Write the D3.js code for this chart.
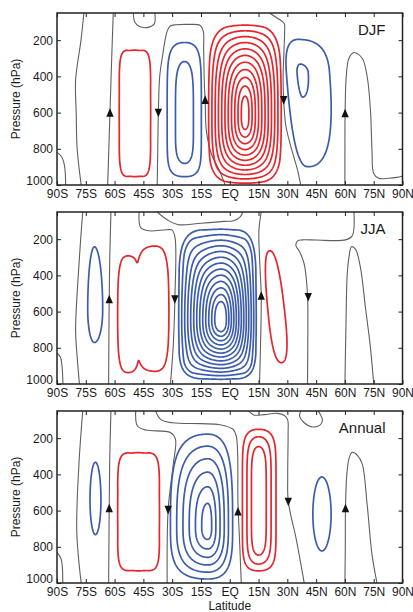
<!DOCTYPE html>
<html><head><meta charset="utf-8">
<script src="https://cdn.jsdelivr.net/npm/d3@7"></script>
<style>body{margin:0;background:#fff}text{font-family:"Liberation Sans",Arial,Helvetica,sans-serif;fill:#1a1a1a}</style>
</head><body><svg id="c" width="413" height="612"></svg>
<script>
// ---------------- data ----------------
const latTicks = [-90,-75,-60,-45,-30,-15,0,15,30,45,60,75,90];
const latTickLabels = ["90S","75S","60S","45S","30S","15S","EQ","15N","30N","45N","60N","75N","90N"];
const presTicks = [200,400,600,800,1000];
const panelNames = ["DJF","JJA","Annual"];

// circulation cells (streamfunction): sign, latitude [outer S edge, peak, outer N edge],
// pressure [outer top, peak, outer bottom] (hPa), number of contours, levels [outer, inner],
// g = stretch of the rings in latitude / pressure, a = squareness of the outer rings
const djfCells = [
  {s: 1, lat:[-57.6,-49.5,-41.2], p:[255,600,954], n:1,  c:[0.1],        a:6},
  {s:-1, lat:[-32.6,-23.5,-14.8], p:[213,650,954], n:2,  c:[0.1,0.5275], g:[1,2.35], a:2.8},
  {s: 1, lat:[-11,8,26.8],        p:[117,614,990], n:11, c:[0.1,0.906],  g:[1,1.45], a:3.5},
  {s:-1, lat:[29.5,37,52],        p:[196,380,899], n:2,  c:[0.1,0.766],  a:2.6, tilt:5}
];
const jjaCells = [
  {s:-1, lat:[-74,-70.5,-66.2],   p:[242,590,771], n:1,  c:[0.1],        a:2},
  {s: 1, parts:[{lat:[-58.4,-53,-46.5], p:[292,620,937]}, {lat:[-49.5,-39,-31.7], p:[238,600,930]}],
                                                   n:1,  c:[0.1],        a:3.2},
  {s:-1, lat:[-26.6,-4.5,13.8],   p:[145,645,974], n:13, c:[0.1,0.865],  g:[1,1.18], a:4.5},
  {s: 1, lat:[20.3,24.5,29],      p:[264,640,882], n:1,  c:[0.1],        a:2.5, tilt:6}
];
const annCells = [
  {s:-1, lat:[-72.8,-70,-67.1],   p:[333,540,733], n:1,  c:[0.1],        a:2},
  {s: 1, lat:[-58.4,-47.5,-36.6], p:[280,620,933], n:1,  c:[0.1],        a:6},
  {s:-1, lat:[-30.9,-11.5,1.5],   p:[178,687,978], n:6,  c:[0.1,0.856],  g:[1,1.32], a:2.7},
  {s: 1, lat:[6.6,15,24.1],       p:[151,560,933], n:3,  c:[0.1,0.604],  g:[1,3.1], a:2.6},
  {s:-1, lat:[43.3,48,52.8],      p:[414,620,823], n:1,  c:[0.1],        a:2}
];

// zero-streamfunction (gray) lines: [lat, hPa]
const djfZero = [
  [[-90,820],[-87.5,845],[-86,900],[-85.5,1000]],
  [[-76,50],[-77.5,200],[-80.3,420],[-80,600],[-79.5,800],[-77.4,1000]],
  [[-60.7,50],[-61.5,300],[-62.4,600],[-63,800],[-63.6,1000]],
  [[-50.2,50],[-49.5,100],[-47,125],[-42,128],[-39.3,110],[-39,50]],
  [[-37.8,1000],[-37.5,800],[-37.2,600],[-36.5,400],[-35.2,300],[-32.6,150],[-31,122],[-28,115],[-21.4,113],[-15.5,118],[-13.8,150],[-13.6,250],[-13.2,450],[-12.8,530],[-12.2,700],[-9.5,830],[-5.5,917],[-2.4,1000]],
  [[20.7,50],[25,80],[28.4,108],[28.6,145],[27.8,400],[28.1,531],[29.3,677],[32.8,824],[35.3,916],[37,1000]],
  [[60,1000],[60,800],[60.1,604],[60.7,400],[62.1,300],[64.7,268],[69,300],[71.6,402],[73.3,586],[74.1,807],[75,936],[77.6,963],[82.8,963],[87.1,958],[90,950]]
];
const jjaZero = [
  [[-90,830],[-88.3,850],[-86.9,1000]],
  [[-76.6,50],[-78.3,300],[-80.3,700],[-79.5,850],[-78.3,1000]],
  [[-61.9,50],[-62.5,300],[-62.8,532],[-63,800],[-63.1,1000]],
  [[-47.2,50],[-46.4,136],[-42.1,154],[-33,148],[-30,150],[-28.5,191],[-28.6,532],[-29.5,800],[-30.9,1000]],
  [[-37.8,50],[-31.7,99],[-26.6,120],[-15,112],[-3,102],[2,98],[5.2,80],[6.9,50]],
  [[16.4,50],[15.2,150],[15.5,300],[16.4,513],[16,800],[15.5,1000]],
  [[64.7,50],[63.8,182],[60.3,204],[45,205],[37.9,204],[35.3,209],[34.5,237],[36.2,265],[38.8,338],[40.5,504],[40.7,700],[40.5,1000]],
  [[60,1000],[60.5,700],[61.2,394],[62.1,301],[63.4,242],[65.5,255],[68.1,357],[70.7,578],[73.3,799],[75,1000]]
];
const annZero = [
  [[-90,830],[-87.8,870],[-87,1000]],
  [[-76.6,50],[-78.6,350],[-79.7,715],[-77.4,1000]],
  [[-61.9,50],[-62.5,300],[-62.8,587],[-63.1,1000]],
  [[-49,50],[-48.1,133],[-43.8,155],[-30.9,169],[-28.3,205],[-29.5,350],[-32.1,596],[-32.6,1000]],
  [[-38.6,50],[-36,96],[-30,115],[-15,120],[-5.2,126],[1.7,151],[3.4,187],[4.3,569],[5.2,787],[6,1000]],
  [[9.9,50],[12.5,72],[18,70],[24.7,63],[28.5,75],[30.2,100],[30.4,169],[30.2,400],[30.5,551],[34.5,751],[38.8,1000]],
  [[37,50],[36.4,80],[38.5,112],[43,138],[47,128],[48.3,100],[47,65],[46,50]],
  [[60,1000],[60.2,800],[60.3,587],[61,400],[62.2,310],[63.8,278],[66.5,295],[69,342],[71.6,569],[74.1,842],[76.7,1000]]
];

// circulation arrows: [lat, hPa, direction (+1 up, -1 down)]
const djfArrows = [[-62.4,601,1],[-37.2,601,-1],[-12.8,530,1],[28.1,531,-1],[60.1,604,1]];
const jjaArrows = [[-62.8,532,1],[-28.6,532,-1],[16.4,513,1],[40.9,519,-1]];
const annArrows = [[-62.8,587,1],[-32.1,596,-1],[4.3,605,1],[30.5,551,-1],[60.3,587,1]];

// ---------------- layout ----------------
const left = 57, W = 345.5, H = 172;
const tops = [13, 212, 411];
const RED = "#e5262c", BLUE = "#3d5dac", GRAY = "#5f5f5f";

const svg = d3.select("#c");
const x = d3.scaleLinear().domain([-90,90]).range([0,W]);
const y = d3.scaleLinear().domain([50,1000]).range([0,H]);
svg.append("defs").append("clipPath").attr("id","clip")
   .append("rect").attr("width",W).attr("height",H);

// grid for the streamfunction field
const dl = 0.4, nx = Math.round(180/dl)+1;
const ny = 238, dp = 950/(ny-1);

function partF(l, p, part, cell) {
  const [lL,lC,lR] = part.lat, [pT,pC,pB] = part.p;
  const [gL,gP] = cell.g || [1,1];
  const a = cell.a || 4, tilt = cell.tilt || 0;
  const D1 = 1 - cell.c[0];
  const kl = Math.pow(D1, 1/gL), kp = Math.pow(D1, 1/gP);
  const le = l - tilt*(p-pC)/(pB-pT);
  const s = le < lC ? (lC-le)*kl/(lC-lL) : (le-lC)*kl/(lR-lC);
  const t = p < pC ? (pC-p)*kp/(pC-pT) : (p-pC)*kp/(pB-pC);
  if (s >= 1.2 || t >= 1.2) return 0;
  const sa = Math.pow(s,gL), ta = Math.pow(t,gP);
  const D2 = Math.hypot(sa,ta);
  const Da = Math.pow(Math.pow(sa,a)+Math.pow(ta,a), 1/a);
  const w = Math.min(1,D2);
  const D = D2 + (Da-D2)*w*w;
  return Math.max(0, 1-D);
}
function cellField(cell) {
  const parts = cell.parts || [{lat:cell.lat, p:cell.p}];
  const vals = new Float64Array(nx*ny);
  for (let j=0;j<ny;j++){
    const p = 50 + j*dp;
    for (let i=0;i<nx;i++){
      const l = -90 + i*dl;
      let v;
      if (parts.length===1) v = partF(l,p,parts[0],cell);
      else { let acc=0; parts.forEach(pt=>{acc+=Math.pow(partF(l,p,pt,cell),6);}); v=Math.pow(acc,1/6);}
      vals[j*nx+i]=v;
    }
  }
  return vals;
}
function levels(cell){
  if (cell.n===1) return [cell.c[0]];
  return d3.range(cell.n).map(k => cell.c[0] + k*(cell.c[1]-cell.c[0])/(cell.n-1));
}
const gridPath = d3.geoPath(d3.geoTransform({
  point(gx, gy){ this.stream.point(x(-90 + (gx-0.5)*dl), y(50 + (gy-0.5)*dp)); }
}));
const zeroLine = d3.line().x(d=>x(d[0])).y(d=>y(d[1])).curve(d3.curveCatmullRom.alpha(0.5));

const panels = [
  {cells:djfCells, zero:djfZero, arrows:djfArrows},
  {cells:jjaCells, zero:jjaZero, arrows:jjaArrows},
  {cells:annCells, zero:annZero, arrows:annArrows}
];

panels.forEach((pn,i)=>{
  const g = svg.append("g").attr("transform",`translate(${left},${tops[i]})`);
  const plot = g.append("g").attr("clip-path","url(#clip)");

  plot.selectAll("path.zero").data(pn.zero).join("path").attr("class","zero")
      .attr("d", zeroLine).attr("fill","none").attr("stroke",GRAY).attr("stroke-width",1.1);

  pn.cells.forEach(cell=>{
    const vals = cellField(cell);
    const cs = d3.contours().size([nx,ny]).thresholds(levels(cell))(vals);
    plot.append("g").selectAll("path").data(cs).join("path")
        .attr("d", gridPath).attr("fill","none")
        .attr("stroke", cell.s>0 ? RED : BLUE).attr("stroke-width",1.7)
        .attr("stroke-linejoin","round");
  });

  plot.selectAll("path.arrow").data(pn.arrows).join("path").attr("class","arrow")
      .attr("d","M0,-4.6L3.7,4L-3.7,4Z")
      .attr("transform", d=>`translate(${x(d[0])},${y(d[1])}) rotate(${d[2]>0?0:180})`)
      .attr("fill","#111");

  // axes with inward ticks
  const ax = g.append("g").attr("class","axes");
  ax.append("g").attr("transform",`translate(0,${H})`)
    .call(d3.axisBottom(x).tickValues(latTicks).tickFormat((d,k)=>latTickLabels[k]).tickSizeInner(-4).tickSizeOuter(0).tickPadding(4));
  ax.append("g").call(d3.axisTop(x).tickValues(latTicks).tickFormat("").tickSizeInner(-4).tickSizeOuter(0));
  const yl = ax.append("g").call(d3.axisLeft(y).tickValues(presTicks).tickFormat(d3.format("d")).tickSizeInner(-4).tickSizeOuter(0).tickPadding(4));
  yl.selectAll(".tick text").filter(d=>d===1000).attr("dy","-0.05em");
  ax.append("g").attr("transform",`translate(${W},0)`)
    .call(d3.axisRight(y).tickValues(presTicks).tickFormat("").tickSizeInner(-4).tickSizeOuter(0));
  ax.selectAll(".domain").remove();
  ax.selectAll(".tick line").attr("stroke","#222");
  ax.selectAll(".tick text").attr("font-size",12).attr("fill","#1a1a1a")
    .attr("font-family","'Liberation Sans',Arial,sans-serif");
  g.append("rect").attr("width",W).attr("height",H).attr("fill","none")
    .attr("stroke","#222").attr("stroke-width",1.5);

  g.append("text").attr("x",W-17).attr("y",22).attr("text-anchor","end")
    .attr("font-size",15).text(panelNames[i]);

  g.append("text").attr("transform",`translate(-37,${H/2}) rotate(-90)`)
    .attr("text-anchor","middle").attr("font-size",12).text("Pressure (hPa)");
});

svg.append("text").attr("x", left + x(0)).attr("y", 610).attr("text-anchor","middle")
   .attr("font-size",12).text("Latitude");
</script>
</body></html>
